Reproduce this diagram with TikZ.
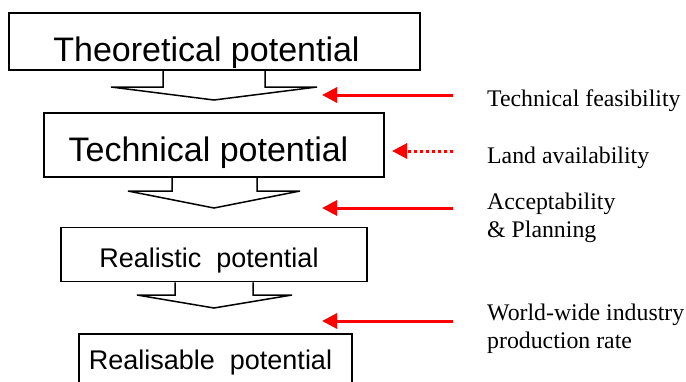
\documentclass[tikz,border=0pt]{standalone}
\usepackage{fontspec}
\setmainfont{Liberation Serif}
\newfontfamily\arialf{Liberation Sans}
\usetikzlibrary{arrows.meta}
\begin{document}
\begin{tikzpicture}[x=1bp,y=-1bp,
  box/.style={draw=black,line width=1.8bp,inner sep=0pt},
  bigtxt/.style={anchor=base,inner sep=0pt,font=\arialf\fontsize{34bp}{40bp}\selectfont},
  midtxt/.style={anchor=base,inner sep=0pt,font=\arialf\fontsize{27bp}{32bp}\selectfont},
  blockarrow/.style={draw=black,line width=1.5bp,line join=miter},
  lbl/.style={anchor=base west,inner sep=0pt,align=left,font=\fontsize{23.8bp}{28.3bp}\selectfont},
  redarrow/.style={draw=red,line width=3bp,-{Triangle[length=15bp,width=15bp]}},
  reddot/.style={redarrow,dash pattern=on 3.5bp off 2.5bp}]
\useasboundingbox (0,0) rectangle (686,381);
% boxes
\node[box,minimum width=411bp,minimum height=57bp] (theo) at (214.5,41.5) {};
\node[bigtxt] (theot) at (206.5,61) {Theoretical potential};
\node[box,minimum width=340bp,minimum height=64bp] (tech) at (214,145) {};
\node[bigtxt] (techt) at (208.5,161.7) {Technical potential};
\node[box,minimum width=306bp,minimum height=54bp] (real) at (214,254.5) {};
\node[midtxt] (realt) at (209,267.3) {Realistic\ \ potential};
\node[box,minimum width=273bp,minimum height=70bp] (reab) at (215.5,369) {};
\node[midtxt] (reabt) at (210.5,369) {Realisable\ \ potential};
% block arrows
\draw[blockarrow] (theo.south -| 163,0) -- (163,87) -- (111,87) -- (214,100) -- (317,87) -- (265,87) -- (theo.south -| 265,0);
\draw[blockarrow] (tech.south -| 172,0) -- (172,191) -- (128,191) -- (214,208) -- (300,191) -- (257,191) -- (tech.south -| 257,0);
\draw[blockarrow] (real.south -| 175,0) -- (175,295) -- (137,295) -- (214,308) -- (292,295) -- (253,295) -- (real.south -| 253,0);
% labels
\node[lbl] (l1) at (487,106.7) {Technical feasibility};
\node[lbl] (l2) at (487,163.3) {Land availability};
\node[lbl] (l3) at (487,237.7) {Acceptability\\\& Planning};
\node[lbl] (l4) at (487,348.3) {World-wide industry\\production rate};
\coordinate (e1) at (322,95);
\coordinate (e2) at (392,151);
\coordinate (e3) at (322,208);
\coordinate (e4) at (322,321);
\draw[redarrow] (l1.west |- e1) ++(-34,0) -- (e1);
\draw[reddot] (l2.west |- e2) ++(-34,0) -- (e2);
\draw[redarrow] (l3.west |- e3) ++(-34,0) -- (e3);
\draw[redarrow] (l4.west |- e4) ++(-34,0) -- (e4);
\end{tikzpicture}
\end{document}
